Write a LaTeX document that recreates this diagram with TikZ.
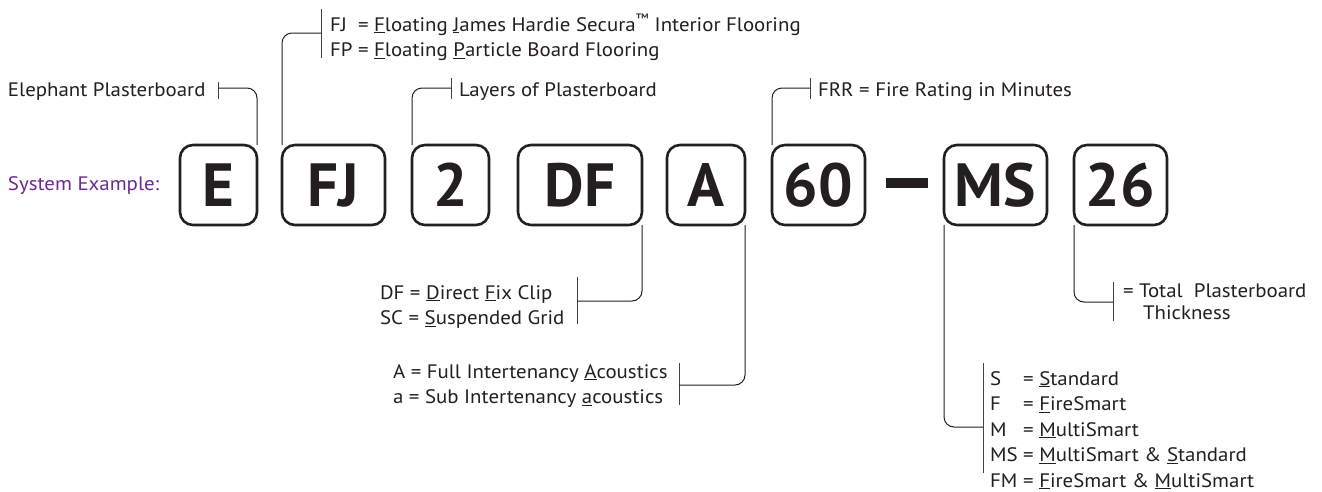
\documentclass[tikz,border=0pt]{standalone}
\usepackage{fontspec}
\setmainfont{PT Sans}[FakeStretch=1.07]
\newfontfamily\boxfont{PT Sans}
\definecolor{ink}{HTML}{231F20}
\definecolor{purp}{HTML}{6A2C91}
\newcommand{\un}[1]{\underline{#1}}
\begin{document}
\begin{tikzpicture}[x=1pt,y=-1pt,
 box/.style={draw=ink, line width=2.6pt, rounded corners=13pt, minimum height=80pt,
   inner sep=0pt, outer sep=0pt, text height=42pt, text depth=0pt,
   font=\boxfont\fontsize{61}{61}\selectfont\bfseries, text=ink},
 conn/.style={draw=ink, line width=1pt, rounded corners=10pt},
 tick/.style={draw=ink!85, line width=1pt},
 lbl/.style={inner sep=0pt, outer sep=0pt, font=\fontsize{19.5}{25.5}\selectfont, text=ink, anchor=base west}]
\useasboundingbox (0,0) rectangle (1322,491);
\fill[white] (0,0) rectangle (1322,491);

% boxes
\node[box, minimum width=77]  (E)  at (218.5,185) {E};
\node[box, minimum width=103] (FJ) at (333.5,185) {FJ};
\node[box, minimum width=77]  (L2) at (450.5,185) {2};
\node[box, minimum width=124] (DF) at (580,185) {DF};
\node[box, minimum width=78]  (A)  at (706,185) {A};
\node[box, minimum width=93]  (F60) at (818.5,185) {60};
\node[fill=ink, inner sep=0pt, minimum width=42, minimum height=10] (dash) at (907,183) {};
\node[box, minimum width=103] (MS) at (995.5,185) {MS};
\node[box, minimum width=93]  (T26) at (1120.5,185) {26};

\node[lbl, text=purp] (sys) at (8,190) {System Example:};

% labels
\node[lbl] (lE) at (8,96) {Elephant Plasterboard};
\node[lbl] (lFJ) at (330,31) {\begin{tabular}[t]{@{}l@{\ }l@{}}FJ & = \un{F}loating \un{J}ames Hardie Secura\textsuperscript{™} Interior Flooring\\FP & = \un{F}loating \un{P}article Board Flooring\end{tabular}};
\node[lbl] (l2) at (459,96) {Layers of Plasterboard};
\node[lbl] (l60) at (818,96) {FRR = Fire Rating in Minutes};
\node[lbl] (lDF) at (380,299) {\begin{tabular}[t]{@{}l@{}}DF = \un{D}irect \un{F}ix Clip\\SC = \un{S}uspended Grid\end{tabular}};
\node[lbl] (lA) at (393,378) {\begin{tabular}[t]{@{}l@{}}A = Full Intertenancy \un{A}coustics\\a = Sub Intertenancy \un{a}coustics\end{tabular}};
\node[lbl] (l26) at (1123,297) {\begin{tabular}[t]{@{}l@{}}= Total~ Plasterboard\\[-3.5pt]\hspace*{20pt}Thickness\end{tabular}};
\node[lbl] (lMS) at (990,385) {\begin{tabular}[t]{@{}l@{\ }l@{}}S & = \un{S}tandard\\F & = \un{F}ireSmart\\M & = \un{M}ultiSmart\\MS & = \un{M}ultiSmart \& \un{S}tandard\\FM & = \un{F}ireSmart \& \un{M}ultiSmart\end{tabular}};

% tick coordinates
\coordinate (tE) at (218,88);
\coordinate (tFJ) at (321,33);
\coordinate (t2) at (451,88);
\coordinate (t60) at (810,88);
\coordinate (tDF) at (577,301);
\coordinate (tA) at (679,385);
\coordinate (t26) at (1113,302);
\coordinate (tMS) at (983,427);

% ticks
\draw[tick] (218,82) -- (218,99);
\draw[tick] (321,9) -- (321,58);
\draw[tick] (451,78) -- (451,99);
\draw[tick] (810,78) -- (810,99);
\draw[tick] (577,277) -- (577,324);
\draw[tick] (679,363) -- (679,405);
\draw[tick] (1113,282) -- (1113,321);
\draw[tick] (983,363) -- (983,473);

% connectors
\draw[conn] (tE) -- (E.north east |- tE) -- (E.north east);
\draw[conn] (tFJ) -- (FJ.north west |- tFJ) -- (FJ.north west);
\draw[conn] (t2) -- (L2.north west |- t2) -- (L2.north west);
\draw[conn] (t60) -- (F60.north west |- t60) -- (F60.north west);
\draw[conn] (DF.south east) -- (DF.south east |- tDF) -- (tDF);
\draw[conn] (A.south east) -- (A.south east |- tA) -- (tA);
\draw[conn] (T26.south west) -- (T26.south west |- t26) -- (t26);
\draw[conn] (MS.south west) -- (MS.south west |- tMS) -- (tMS);
\end{tikzpicture}
\end{document}
